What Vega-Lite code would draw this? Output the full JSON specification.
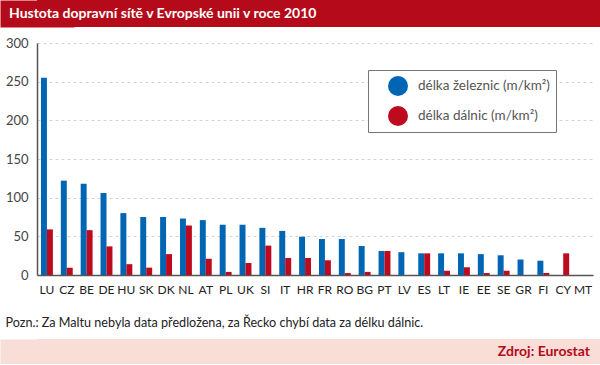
{
  "$schema": "https://vega.github.io/schema/vega-lite/v6.json",
  "padding": 0,
  "background": "white",
  "spacing": 10,
  "bounds": "full",
  "align": "none",
  "columns": 1,
  "config": {"font": "Lato", "view": {"stroke": null}},
  "resolve": {"legend": {"color": "independent"}},
  "concat": [
    {
      "width": 563,
      "height": 27,
      "view": {"fill": "#b50a1a", "stroke": null},
      "data": {"values": [{"t": "Hustota dopravní sítě v Evropské unii v roce 2010", "m": 0.5}]},
      "mark": {"type": "text", "align": "left", "baseline": "middle", "dx": -309.5, "color": "white", "fontSize": 14, "fontWeight": "bold"},
      "encoding": {
        "text": {"field": "t"},
        "y": {"field": "m", "type": "quantitative", "scale": {"domain": [0, 1]},
              "axis": {"title": null, "labels": false, "ticks": false, "grid": false, "domainColor": "#b50a1a", "domainWidth": 74}}
      }
    },
    {
      "width": 556,
      "height": 232,
      "data": {"values": [
        {"country": "LU", "series": "délka železnic (m/km²)", "value": 255},
        {"country": "LU", "series": "délka dálnic (m/km²)", "value": 59},
        {"country": "CZ", "series": "délka železnic (m/km²)", "value": 122},
        {"country": "CZ", "series": "délka dálnic (m/km²)", "value": 9.5},
        {"country": "BE", "series": "délka železnic (m/km²)", "value": 118},
        {"country": "BE", "series": "délka dálnic (m/km²)", "value": 58},
        {"country": "DE", "series": "délka železnic (m/km²)", "value": 106},
        {"country": "DE", "series": "délka dálnic (m/km²)", "value": 37},
        {"country": "HU", "series": "délka železnic (m/km²)", "value": 80},
        {"country": "HU", "series": "délka dálnic (m/km²)", "value": 14},
        {"country": "SK", "series": "délka železnic (m/km²)", "value": 75},
        {"country": "SK", "series": "délka dálnic (m/km²)", "value": 9.5},
        {"country": "DK", "series": "délka železnic (m/km²)", "value": 75},
        {"country": "DK", "series": "délka dálnic (m/km²)", "value": 27},
        {"country": "NL", "series": "délka železnic (m/km²)", "value": 73},
        {"country": "NL", "series": "délka dálnic (m/km²)", "value": 64},
        {"country": "AT", "series": "délka železnic (m/km²)", "value": 71},
        {"country": "AT", "series": "délka dálnic (m/km²)", "value": 21},
        {"country": "PL", "series": "délka železnic (m/km²)", "value": 65},
        {"country": "PL", "series": "délka dálnic (m/km²)", "value": 4},
        {"country": "UK", "series": "délka železnic (m/km²)", "value": 65},
        {"country": "UK", "series": "délka dálnic (m/km²)", "value": 15.5},
        {"country": "SI", "series": "délka železnic (m/km²)", "value": 61},
        {"country": "SI", "series": "délka dálnic (m/km²)", "value": 38},
        {"country": "IT", "series": "délka železnic (m/km²)", "value": 57},
        {"country": "IT", "series": "délka dálnic (m/km²)", "value": 22},
        {"country": "HR", "series": "délka železnic (m/km²)", "value": 49.5},
        {"country": "HR", "series": "délka dálnic (m/km²)", "value": 22},
        {"country": "FR", "series": "délka železnic (m/km²)", "value": 46.5},
        {"country": "FR", "series": "délka dálnic (m/km²)", "value": 19},
        {"country": "RO", "series": "délka železnic (m/km²)", "value": 46.5},
        {"country": "RO", "series": "délka dálnic (m/km²)", "value": 2.5},
        {"country": "BG", "series": "délka železnic (m/km²)", "value": 37.5},
        {"country": "BG", "series": "délka dálnic (m/km²)", "value": 4},
        {"country": "PT", "series": "délka železnic (m/km²)", "value": 31},
        {"country": "PT", "series": "délka dálnic (m/km²)", "value": 31},
        {"country": "LV", "series": "délka železnic (m/km²)", "value": 29.5},
        {"country": "ES", "series": "délka železnic (m/km²)", "value": 28},
        {"country": "ES", "series": "délka dálnic (m/km²)", "value": 28},
        {"country": "LT", "series": "délka železnic (m/km²)", "value": 28},
        {"country": "LT", "series": "délka dálnic (m/km²)", "value": 5.5},
        {"country": "IE", "series": "délka železnic (m/km²)", "value": 28},
        {"country": "IE", "series": "délka dálnic (m/km²)", "value": 10},
        {"country": "EE", "series": "délka železnic (m/km²)", "value": 27},
        {"country": "EE", "series": "délka dálnic (m/km²)", "value": 2.5},
        {"country": "SE", "series": "délka železnic (m/km²)", "value": 25.5},
        {"country": "SE", "series": "délka dálnic (m/km²)", "value": 5.5},
        {"country": "GR", "series": "délka železnic (m/km²)", "value": 20},
        {"country": "FI", "series": "délka železnic (m/km²)", "value": 18.5},
        {"country": "FI", "series": "délka dálnic (m/km²)", "value": 2.5},
        {"country": "CY", "series": "délka dálnic (m/km²)", "value": 28}
      ]},
      "mark": {"type": "bar"},
      "encoding": {
        "x": {
          "field": "country",
          "type": "nominal",
          "sort": null,
          "scale": {
            "domain": ["LU","CZ","BE","DE","HU","SK","DK","NL","AT","PL","UK","SI","IT","HR","FR","RO","BG","PT","LV","ES","LT","IE","EE","SE","GR","FI","CY","MT"],
            "paddingInner": 0.4,
            "paddingOuter": 0.2
          },
          "axis": {
            "labelAngle": 0,
            "ticks": false,
            "labelPadding": 9,
            "labelFontSize": 12,
            "labelColor": "#222",
            "domainColor": "#555",
            "domainWidth": 1.5,
            "grid": false,
            "title": "Pozn.: Za Maltu nebyla data předložena, za Řecko chybí data za délku dálnic.",
            "titleAnchor": "start",
            "titleAlign": "left",
            "titleX": -32,
            "titleFontWeight": "normal",
            "titleFontSize": 12.6,
            "titleColor": "#222",
            "titlePadding": 21
          }
        },
        "xOffset": {
          "field": "series",
          "type": "nominal",
          "scale": {"domain": ["délka železnic (m/km²)", "délka dálnic (m/km²)"], "paddingInner": 0}
        },
        "y": {
          "field": "value",
          "type": "quantitative",
          "scale": {"domain": [0, 300]},
          "axis": {
            "values": [0, 50, 100, 150, 200, 250, 300],
            "title": null,
            "ticks": false,
            "labelPadding": 9,
            "labelFontSize": 13,
            "labelColor": "#444",
            "domainColor": "#555",
            "domainWidth": 1.5,
            "gridColor": "#d4d4d4",
            "gridDash": [3, 3],
            "minExtent": 37,
            "maxExtent": 37
          }
        },
        "color": {
          "field": "series",
          "type": "nominal",
          "scale": {"domain": ["délka železnic (m/km²)", "délka dálnic (m/km²)"], "range": ["#0065b3", "#be0a1e"]},
          "legend": {
            "orient": "none",
            "legendX": 331,
            "legendY": 27,
            "title": null,
            "symbolType": "circle",
            "symbolSize": 400,
            "symbolStrokeWidth": 0,
            "labelFontSize": 13.5,
            "labelColor": "#555",
            "strokeColor": "#777",
            "fillColor": "white",
            "padding": 6,
            "symbolOffset": 14,
            "labelOffset": 10,
            "rowPadding": 10
          }
        }
      }
    },
    {
      "width": 563,
      "height": 25,
      "view": {"fill": "#f9ddd7", "stroke": null},
      "data": {"values": [{"t": "Zdroj: Eurostat", "m": 0.5}]},
      "mark": {"type": "text", "align": "right", "baseline": "middle", "dx": 271.5, "color": "#b50a1a", "fontSize": 14, "fontWeight": "bold"},
      "encoding": {
        "text": {"field": "t"},
        "y": {"field": "m", "type": "quantitative", "scale": {"domain": [0, 1]},
              "axis": {"title": null, "labels": false, "ticks": false, "grid": false, "domainColor": "#f9ddd7", "domainWidth": 74}}
      }
    }
  ]
}
